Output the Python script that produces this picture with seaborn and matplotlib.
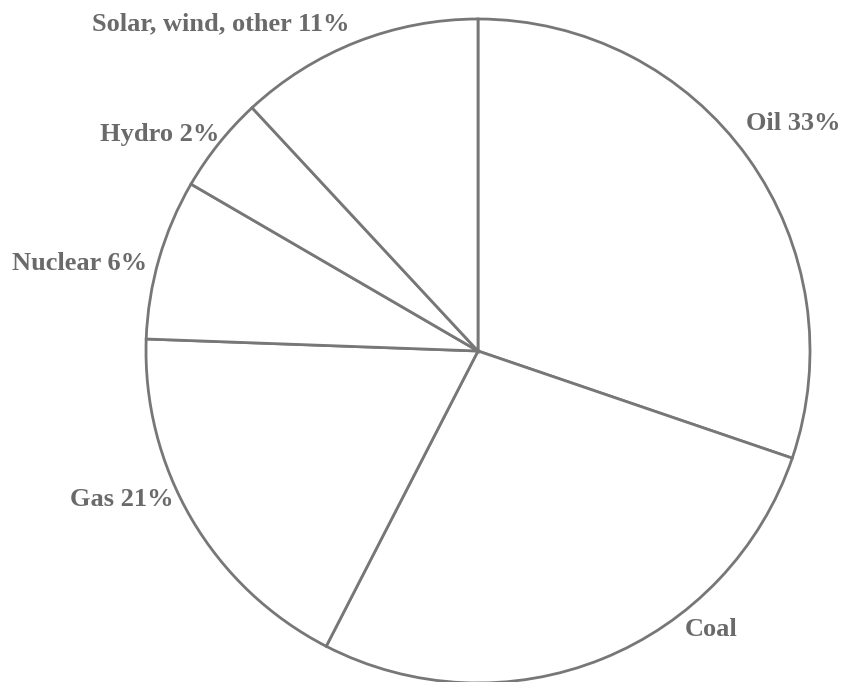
import matplotlib
matplotlib.use("Agg")
import matplotlib.pyplot as plt
import seaborn as sns

categories = ["Oil", "Coal", "Gas", "Nuclear", "Hydro", "Solar, wind, other"]
shares = [30.2, 27.3, 18.0, 7.8, 4.7, 11.9]
labels = ["Oil 33%", "Coal", "Gas 21%", "Nuclear 6%", "Hydro 2%", "Solar, wind, other 11%"]

sns.set_theme(style="white")
plt.rcParams["font.family"] = ["Liberation Serif", "DejaVu Serif"]

W, H = 844, 682
fig = plt.figure(figsize=(W / 100, H / 100), dpi=100)
ax = fig.add_axes([0, 0, 1, 1])

line_color = "#777777"
text_color = "#6a6a6a"
cx, cy, r = 478, H - 351, 332

wedges, _ = ax.pie(
    shares,
    startangle=90,
    counterclock=False,
    center=(cx, cy),
    radius=r,
    colors=["white"] * len(shares),
    wedgeprops=dict(edgecolor=line_color, linewidth=2.0),
    frame=True,
)
ax.set_xlim(0, W)
ax.set_ylim(0, H)
ax.set_aspect("equal")
ax.axis("off")

# label anchor positions (left x, center y in pixel coords from top)
label_pos = [(746, 124), (685, 630), (70, 499), (12, 264), (100, 135), (92, 24)]
for lab, (x, y) in zip(labels, label_pos):
    ax.text(x, H - y, lab, ha="left", va="center", fontsize=19,
            fontweight="bold", color=text_color)

fig.savefig("out.png", dpi=100, facecolor="white")
